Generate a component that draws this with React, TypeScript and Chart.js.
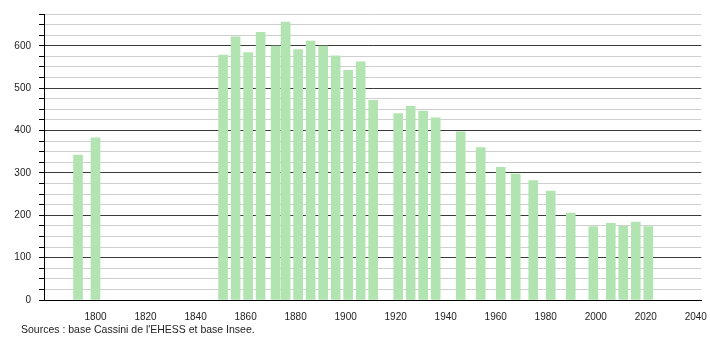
import React, { useEffect, useRef } from "react";
import { Chart, registerables } from "chart.js";

Chart.register(...registerables);

const years = [1793, 1800, 1851, 1856, 1861, 1866, 1872, 1876, 1881, 1886, 1891, 1896, 1901, 1906, 1911, 1921, 1926, 1931, 1936, 1946, 1954, 1962, 1968, 1975, 1982, 1990, 1999, 2006, 2011, 2016, 2021];
const population = [342, 383, 578, 621, 584, 632, 599, 656, 591, 611, 599, 576, 542, 562, 471, 440, 457, 446, 430, 397, 360, 313, 297, 282, 257, 205, 173, 181, 174, 184, 173];
const xTickLabels = [1800, 1820, 1840, 1860, 1880, 1900, 1920, 1940, 1960, 1980, 2000, 2020, 2040];
const yTickValues = [0, 25, 50, 75, 100, 125, 150, 175, 200, 225, 250, 275, 300, 325, 350, 375, 400, 425, 450, 475, 500, 525, 550, 575, 600, 625, 650, 675];
const sourceText = "Sources : base Cassini de l'EHESS et base Insee.";

export default function App() {
  const ref = useRef<HTMLCanvasElement | null>(null);
  useEffect(() => {
    if (!ref.current) return;
    const font = { family: "'Liberation Sans', Arial, sans-serif", size: 10 };
    const chart = new Chart(ref.current, {
      type: "bar",
      data: {
        datasets: [
          {
            data: years.map((y, i) => ({ x: y, y: population[i] })),
            backgroundColor: "#b1e4b1",
            borderWidth: 0,
            barThickness: 9,
          },
        ],
      },
      options: {
        animation: false,
        responsive: false,
        maintainAspectRatio: false,
        layout: { padding: { top: 11, right: 8, left: 0, bottom: 0 } },
        plugins: { legend: { display: false }, tooltip: { enabled: false } },
        scales: {
          x: {
            type: "linear",
            offset: false,
            min: 1779.4,
            max: 2042.2,
            afterBuildTicks: (scale: any) => {
              scale.ticks = xTickLabels.map((v) => ({ value: v }));
            },
            afterFit: (scale: any) => {
              scale.height = 40;
            },
            grid: { display: false, offset: false },
            border: { display: true, color: "#000", width: 1 },
            ticks: {
              font,
              color: "#222",
              padding: 3,
              maxRotation: 0,
              autoSkip: false,
              callback: (v: any) => String(v),
            },
          },
          y: {
            type: "linear",
            min: 0,
            max: 675,
            afterBuildTicks: (scale: any) => {
              scale.ticks = yTickValues.map((v) => ({ value: v }));
            },
            afterFit: (scale: any) => {
              scale.width = 44;
            },
            grid: {
              color: (ctx: any) => (ctx.tick && ctx.tick.value % 100 === 0 ? "#3a3a3a" : "#cfcfcf"),
              tickColor: "#000",
              tickLength: 5,
              lineWidth: 1,
            },
            border: { display: true, color: "#000", width: 1 },
            ticks: {
              font,
              color: "#222",
              padding: 8,
              autoSkip: false,
              callback: (v: any) => (Number(v) % 100 === 0 ? String(v) : ""),
            },
          },
        },
      },
    });
    return () => chart.destroy();
  }, []);

  return (
    <div style={{ position: "fixed", left: 0, top: 0, width: 710, height: 340, background: "#fff" }}>
      <canvas ref={ref} width={710} height={340} style={{ width: 710, height: 340, display: "block" }} />
      <div
        style={{
          position: "absolute",
          left: 21,
          top: 323,
          fontFamily: "'Liberation Sans', Arial, sans-serif",
          fontSize: 10.5,
          color: "#222",
          whiteSpace: "nowrap",
        }}
      >
        {sourceText}
      </div>
    </div>
  );
}
